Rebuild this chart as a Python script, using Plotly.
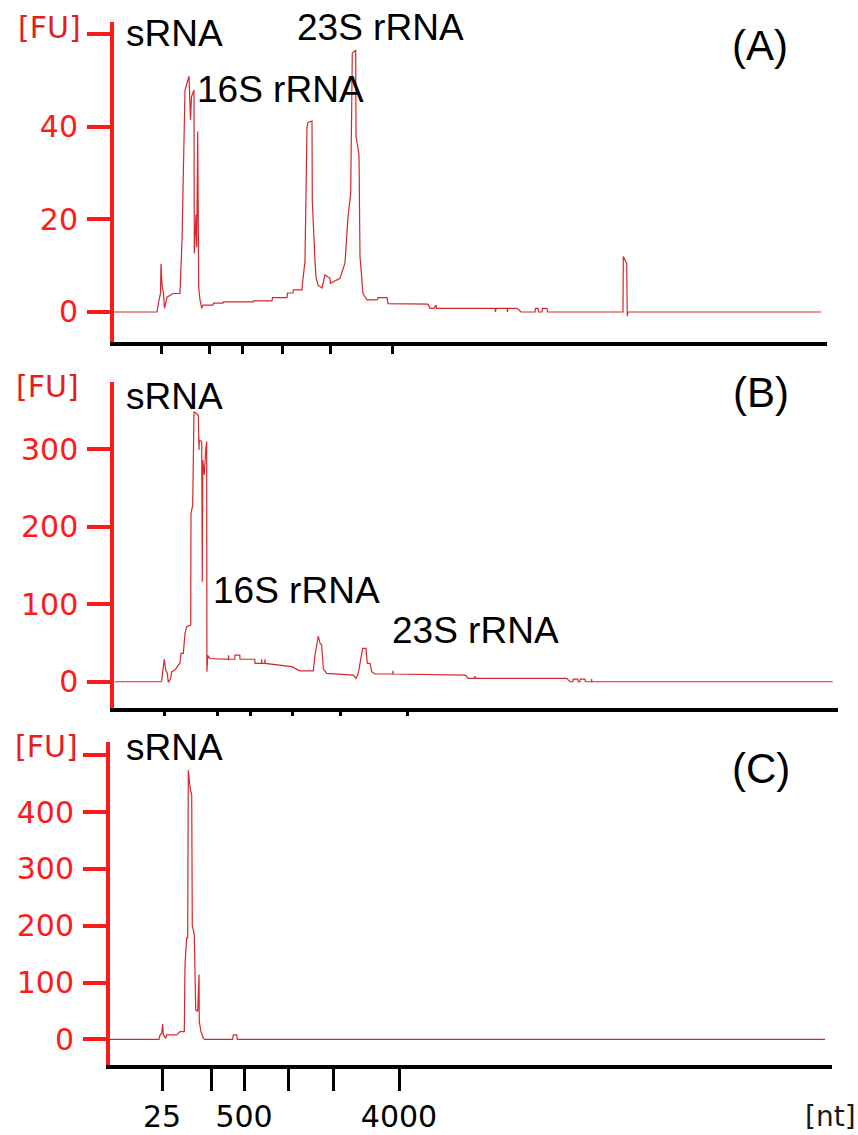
import plotly.graph_objects as go

W, H = 858, 1135

# ---------------- data (migration position along each run, fluorescence FU) ----------------
# Panel A
tA = [0, 43, 45, 46.5, 47, 48, 49.5, 50.5, 53, 55, 59, 66, 68, 71, 75, 76.5, 77.5, 80, 80.3, 82, 82.7,
      83.7, 84.7, 86, 87.7, 89, 99, 99.5, 109, 109.5, 139, 139.5, 158, 158.5, 173, 173.5, 179, 179.5,
      188, 188.5, 191, 193, 194, 198, 198.3, 201, 202, 204, 208, 211, 216, 216.3, 226, 231, 234, 236.7,
      238.3, 241.7, 242, 245, 246, 249, 253, 263, 264, 273, 274, 314, 316, 320, 322, 322.5, 381, 381.5,
      382, 393, 393.5, 394, 403, 407, 421, 421.5, 424, 424.5, 428, 428.5, 433, 433.5, 509, 509.3,
      512.7, 513.3, 514, 707]
fuA = [0, 0, 2.5, 4, 10.4, 5.8, 4, 0.8, 3.2, 3.5, 4, 4, 15.5, 48, 51, 41.5, 46.5, 48, 12.7, 21, 14,
       39, 5.4, 2.6, 0.8, 1.5, 1.5, 1.9, 1.9, 2.2, 2.2, 2.4, 2.4, 3.1, 3.1, 4.1, 4.1, 4.8,
       4.8, 6.2, 11, 40, 41, 41.3, 24, 11, 7.6, 5.8, 5.2, 8, 7.3, 6.2, 7.3, 10.6, 20.6, 25.6,
       56, 56.6, 38, 34, 12, 4, 2.6, 2.6, 3.1, 3.1, 1.8, 1.7, 0.8, 0.8, 1.5, 0.8, 0.8, 0,
       0.8, 0.8, 0, 0.8, 0.8, 0, 0, 0.8, 0.8, 0, 0, 0.8, 0.8, 0, 0, 12,
       10.5, -0.9, 0, 0]

# Panel B
tB = [0, 46.5, 47.4, 50, 51.4, 53, 54, 56.4, 57.4, 60.7, 64, 65.7, 66.7, 69, 70.7, 72.4, 76.4, 76.7,
      78.4, 79.7, 82.4, 84, 84.7, 85, 87.4, 88, 88.4, 90, 91.4, 92.4, 92.6, 93.4, 95.7, 114, 114.2,
      114.5, 120.5, 120.7, 125.5, 125.7, 140.5, 140.7, 147.2, 147.4, 147.6, 150.5, 150.7, 150.9,
      177.4, 185.7, 199, 200.7, 204, 205.7, 207.4, 209, 212.4, 239, 241.7, 244, 245.7, 248.4,
      251.7, 253, 255.7, 257.4, 260.7, 278.5, 278.7, 278.9, 351.4, 353.7, 359.7, 360.7, 361.2,
      452.4, 455.7, 458.7, 459, 463.5, 463.8, 465.7, 466, 470.7, 471, 477, 477.3, 477.6, 718.4]
fuB = [0, 0, 2, 29, 15, 11, -1, 4, 13, 15, 21.5, 24, 36.6, 36.6, 62, 71, 73, 217,
       228, 348.5, 346, 344, 299, 312, 310, 129, 286, 267, 299, 310, 13, 34, 30, 29, 34,
       29, 29, 34.4, 34.4, 29, 29, 23.7, 23.7, 29, 23.7, 23.7, 29, 23.7,
       19.4, 14, 14, 34.4, 59, 50, 47, 17, 10.8, 8.6, 4.3, 10.8, 23.7, 43,
       43, 23.7, 23.7, 13, 10, 10, 14, 10, 8.6, 4.3, 4.3, 7, 4.3,
       4.3, 0, 0, 3.4, 3.4, 0, 0, 3.4, 3.4, 0, 0, 3.4, 0, 0]

# Panel C
tC = [0, 49, 50, 51.7, 52.7, 53.3, 55.7, 56.7, 66.7, 70, 74.3, 75, 76.7, 77.7, 78.3, 80, 81.7, 82.3,
      84.3, 85.7, 87.7, 89, 89.3, 91, 93.3, 94.3, 122.7, 123.3, 126.7, 127.3, 715]
fuC = [0, 0, 7.7, 10.6, 27, 7.7, 1.8, 7.7, 7.7, 13.6, 13.6, 131.6, 178.8, 178.8, 473.7, 444, 429.5, 199.4,
       184.7, 52, 49, 113.9, 31, 13.6, 1.8, 0, 0, 7.7, 7.7, 0, 0]

# size-ladder tick positions (per run) and labels
ladder_A = [47, 95, 128, 168, 216, 278]
ladder_B = [50, 103, 136.4, 178, 225.7, 293]
ladder_C = [52, 101, 134, 178, 223, 289]
ladder_labels = ["25", "", "500", "", "", "4000"]

yticks_A = [0, 20, 40, 60]
ytext_A = ["0", "20", "40", ""]
yticks_B = [0, 100, 200, 300]
ytext_B = ["0", "100", "200", "300"]
yticks_C = [0, 100, 200, 300, 400, 500]
ytext_C = ["0", "100", "200", "300", "400", ""]

# ---------------- figure ----------------
TRACE = "#d8262b"
RED = "#ff1a1a"
FU_RED = "#e0201f"


def px(x):
    return x / W


def py(y):
    return 1 - y / H


fig = go.Figure()
fig.add_trace(go.Scatter(x=tA, y=fuA, mode="lines", line=dict(color=TRACE, width=1.2),
                         xaxis="x", yaxis="y", hoverinfo="skip"))
fig.add_trace(go.Scatter(x=tB, y=fuB, mode="lines", line=dict(color=TRACE, width=1.2),
                         xaxis="x2", yaxis="y2", hoverinfo="skip"))
fig.add_trace(go.Scatter(x=tC, y=fuC, mode="lines", line=dict(color=TRACE, width=1.2),
                         xaxis="x3", yaxis="y3", hoverinfo="skip"))

tickfont_y = dict(family="DejaVu Sans", size=30, color=RED)


def xaxis(dom, rng, ticks, ticklen, labels=None):
    d = dict(domain=dom, range=rng, showline=True, linecolor="black", linewidth=3.5,
             showgrid=False, zeroline=False, ticks="outside", ticklen=ticklen, tickwidth=3,
             tickcolor="black", tickvals=ticks, fixedrange=True)
    if labels is None:
        d["showticklabels"] = False
    else:
        d["ticktext"] = labels
        d["tickfont"] = dict(family="DejaVu Sans", size=30, color="black")
    return d


def yaxis(dom, rng, anchor, vals, text):
    return dict(domain=dom, range=rng, anchor=anchor, showline=True, linecolor=RED, linewidth=4,
                showgrid=False, zeroline=False, ticks="outside", ticklen=23, tickwidth=4,
                tickcolor=RED, tickvals=vals, ticktext=text, tickfont=tickfont_y,
                ticklabelstandoff=3, fixedrange=True)


fig.update_layout(
    width=W, height=H, margin=dict(l=0, r=0, t=0, b=0),
    paper_bgcolor="white", plot_bgcolor="white", showlegend=False,
    xaxis=xaxis([px(114), px(827)], [0, 713], ladder_A, 8),
    yaxis=yaxis([py(342), py(22)], [-6.49, 62.7], "x", yticks_A, ytext_A),
    xaxis2=xaxis([px(114.3), px(838)], [0, 723.7], ladder_B, 4),
    yaxis2=yaxis([py(708.3), py(382)], [-34.3, 386.9], "x2", yticks_B, ytext_B),
    xaxis3=xaxis([px(110), px(832)], [0, 722], ladder_C, 22, ladder_labels),
    yaxis3=yaxis([py(1065), py(742)], [-45.2, 523.4], "x3", yticks_C, ytext_C),
)
fig.update_layout(xaxis=dict(anchor="y"), xaxis2=dict(anchor="y2"), xaxis3=dict(anchor="y3"))

labfont = dict(family="Liberation Sans, Arial", size=37, color="black")
panfont = dict(family="Liberation Sans, Arial", size=42, color="black")
fufont = dict(family="DejaVu Sans", size=30, color=FU_RED)

ann = [
    # panel A
    dict(text="[FU]", x=px(49), y=py(27), xanchor="center", font=fufont),
    dict(text="sRNA", x=px(124), y=py(33), xanchor="left", font=labfont),
    dict(text="16S rRNA", x=px(195), y=py(90), xanchor="left", font=labfont),
    dict(text="23S rRNA", x=px(295), y=py(27), xanchor="left", font=labfont),
    dict(text="(A)", x=px(760), y=py(46), xanchor="center", font=panfont),
    # panel B
    dict(text="[FU]", x=px(47), y=py(386), xanchor="center", font=fufont),
    dict(text="sRNA", x=px(124), y=py(396), xanchor="left", font=labfont),
    dict(text="16S rRNA", x=px(211), y=py(590), xanchor="left", font=labfont),
    dict(text="23S rRNA", x=px(390), y=py(630), xanchor="left", font=labfont),
    dict(text="(B)", x=px(761), y=py(392), xanchor="center", font=panfont),
    # panel C
    dict(text="[FU]", x=px(46), y=py(746), xanchor="center", font=fufont),
    dict(text="sRNA", x=px(124), y=py(747), xanchor="left", font=labfont),
    dict(text="(C)", x=px(761), y=py(768), xanchor="center", font=panfont),
    # unit
    dict(text="[nt]", x=px(830), y=py(1116), xanchor="center",
         font=dict(family="DejaVu Sans", size=28, color="#1a1a1a")),
]
for a in ann:
    a.update(xref="paper", yref="paper", yanchor="middle", showarrow=False)
fig.update_layout(annotations=ann)

fig.write_html("out.html")
